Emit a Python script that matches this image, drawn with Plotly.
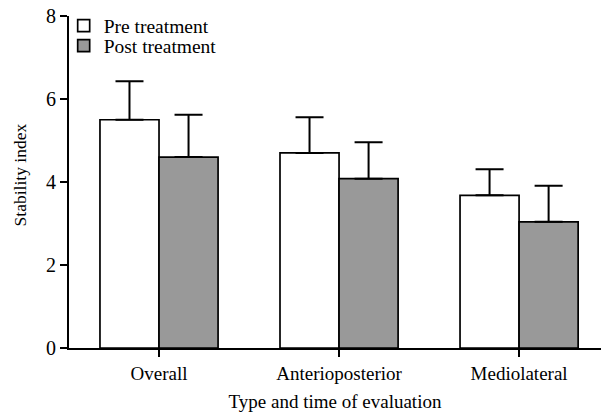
import plotly.graph_objects as go

categories = ["Overall", "Anterioposterior", "Mediolateral"]
pre_mean = [5.5, 4.7, 3.68]
pre_sd = [0.93, 0.86, 0.63]
post_mean = [4.6, 4.08, 3.04]
post_sd = [1.02, 0.88, 0.87]
y_ticks = [0, 2, 4, 6, 8]

FONT = "Liberation Serif"
x_pos = list(range(len(categories)))

fig = go.Figure()
fig.add_trace(go.Bar(
    x=x_pos, y=pre_mean, name="Pre treatment", legend="legend",
    marker=dict(color="white", line=dict(color="black", width=1.7)),
    error_y=dict(type="data", array=pre_sd, symmetric=False, arrayminus=[0] * 3,
                 color="black", thickness=2, width=14),
))
fig.add_trace(go.Bar(
    x=x_pos, y=post_mean, name="Post treatment", legend="legend2",
    marker=dict(color="#999999", line=dict(color="black", width=1.7)),
    error_y=dict(type="data", array=post_sd, symmetric=False, arrayminus=[0] * 3,
                 color="black", thickness=2, width=14),
))

legend_style = dict(x=-0.01, xanchor="left", yanchor="middle",
                    bgcolor="rgba(0,0,0,0)", font=dict(family=FONT, size=19.5),
                    itemwidth=30)

fig.update_layout(
    width=601, height=414,
    margin=dict(l=69, r=0, t=16, b=66),
    paper_bgcolor="white", plot_bgcolor="white",
    barmode="group", bargap=0.344, bargroupgap=0,
    font=dict(family=FONT, size=19, color="black"),
    showlegend=True,
    legend=dict(y=0.970, **legend_style),
    legend2=dict(y=0.910, **legend_style),
    xaxis=dict(
        tickmode="array", tickvals=x_pos, ticktext=categories,
        range=[-0.5, 2.455], showline=True, linecolor="black", linewidth=2,
        ticks="outside", ticklen=7, tickwidth=1.5, tickcolor="black",
        showgrid=False, zeroline=False,
        title=dict(text="Type and time of evaluation", font=dict(family=FONT, size=19), standoff=12),
        tickfont=dict(family=FONT, size=19),
    ),
    yaxis=dict(
        range=[0, 8], tickvals=y_ticks, showline=True, linecolor="black", linewidth=2,
        ticks="outside", ticklen=7, tickwidth=1.5, tickcolor="black",
        showgrid=False, zeroline=False,
        tickfont=dict(family=FONT, size=20),
    ),
    annotations=[dict(
        text="Stability index", textangle=-90, showarrow=False,
        xref="paper", yref="paper", x=-0.092, y=0.52,
        xanchor="center", yanchor="middle",
        font=dict(family=FONT, size=17.5, color="black"),
    )],
)

fig.write_html("out.html")
